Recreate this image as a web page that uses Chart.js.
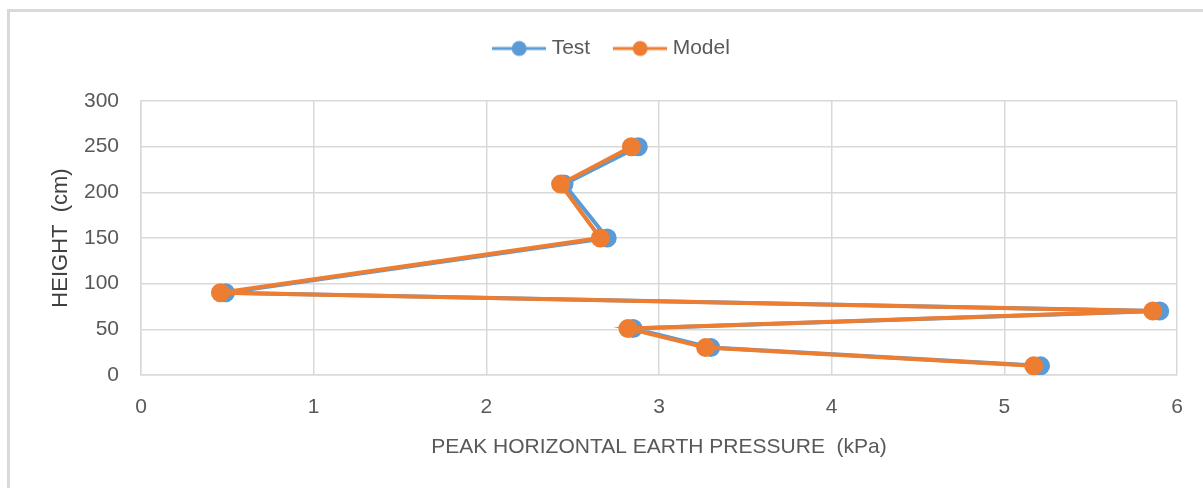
<!DOCTYPE html>
<html>
<head>
<meta charset="utf-8">
<script src="https://cdn.jsdelivr.net/npm/chart.js@4"></script>
<style>
	html, body { margin: 0; padding: 0; background: #fff; overflow: hidden; }
	#frame {
		position: absolute; left: 7px; top: 9px; width: 1300px; height: 600px;
		border-left: 3px solid #d9d9d9; border-top: 3px solid #d9d9d9;
	}
	#wrap { position: absolute; left: 0; top: 0; width: 1203px; height: 488px; }
</style>
</head>
<body>
<div id="frame"></div>
<div id="wrap"><canvas id="earth-pressure"></canvas></div>
<script>
// heights (cm) and peak pressures (kPa)
const heights = [10, 30, 51, 70, 90, 150, 209, 250];
const testValues = [5.21, 3.30, 2.85, 5.90, 0.49, 2.70, 2.45, 2.88];
const modelValues = [5.17, 3.27, 2.82, 5.86, 0.46, 2.66, 2.43, 2.84];
const seriesNames = ["Test", "Model"];
const xTicks = [0, 1, 2, 3, 4, 5, 6];
const yTicks = [0, 50, 100, 150, 200, 250, 300];

const blue = "#5b9bd5";
const orange = "#ed7d31";
const grey = "#595959";
const fontFam = "'Liberation Sans', Arial, sans-serif";

function toPoints(xs) {
	let pts = [];
	for (let i = 0; i < xs.length; i++) pts.push({ x: xs[i], y: heights[i] });
	return pts;
}

// legend marker: line with a dot in the middle
function legendIcon(color) {
	let c = document.createElement("canvas");
	c.width = 54;
	c.height = 18;
	let g = c.getContext("2d");
	g.strokeStyle = color;
	g.lineWidth = 3;
	g.beginPath();
	g.moveTo(0, 9);
	g.lineTo(54, 9);
	g.stroke();
	g.fillStyle = color;
	g.beginPath();
	g.arc(27, 9, 7.5, 0, Math.PI * 2);
	g.fill();
	return c;
}

// make the legend box taller so the plot starts lower
const legendSpace = {
	id: "legendSpace",
	beforeLayout(chart) {
		let lg = chart.legend;
		if (!lg || lg._patched) return;
		let fit = lg.fit;
		lg.fit = function () {
			fit.call(this);
			this.height += 32;
		};
		lg._patched = true;
	},
};

let obj = {
	type: "scatter",
	data: {
		datasets: [
			{
				label: seriesNames[0],
				data: toPoints(testValues),
				showLine: true,
				order: 1,
				borderColor: blue,
				backgroundColor: blue,
				borderWidth: 4,
				pointRadius: 7.5,
				pointHoverRadius: 7.5,
				pointStyle: "circle",
				legendIcon: legendIcon(blue),
			},
			{
				label: seriesNames[1],
				data: toPoints(modelValues),
				showLine: true,
				order: 0,
				borderColor: orange,
				backgroundColor: orange,
				borderWidth: 4,
				pointRadius: 7.5,
				pointHoverRadius: 7.5,
				pointStyle: "circle",
				legendIcon: legendIcon(orange),
			},
		],
	},
	options: {
		responsive: false,
		animation: false,
		layout: { padding: { top: 10, right: 26, left: 50, bottom: 0 } },
		plugins: {
			tooltip: { enabled: false },
			legend: {
				position: "top",
				labels: {
					usePointStyle: true,
					pointStyleWidth: 44,
					padding: 28,
					color: grey,
					font: { family: fontFam, size: 21 },
					generateLabels: function (chart) {
						return chart.data.datasets.map((ds, i) => ({
							text: ds.label,
							fillStyle: ds.borderColor,
							strokeStyle: ds.borderColor,
							lineWidth: 0,
							pointStyle: ds.legendIcon,
							fontColor: grey,
							datasetIndex: i,
							hidden: false,
						}));
					},
				},
			},
		},
		scales: {
			x: {
				type: "linear",
				min: 0,
				max: 6,
				afterBuildTicks: (s) => { s.ticks = xTicks.map((v) => ({ value: v })); },
				afterFit: (s) => { s.height = 113; },
				grid: { color: "#d9d9d9", lineWidth: 1.5, drawTicks: false },
				border: { color: "#d9d9d9", width: 1.5 },
				ticks: { color: grey, padding: 20, font: { family: fontFam, size: 21 } },
				title: {
					display: true,
					text: "PEAK HORIZONTAL EARTH PRESSURE  (kPa)",
					color: grey,
					font: { family: fontFam, size: 21 },
					padding: { top: 0, bottom: 28 },
				},
			},
			y: {
				type: "linear",
				min: 0,
				max: 300,
				afterBuildTicks: (s) => { s.ticks = yTicks.map((v) => ({ value: v })); },
				afterFit: (s) => { s.width = 91; },
				grid: { color: "#d9d9d9", lineWidth: 1.5, drawTicks: false },
				border: { color: "#d9d9d9", width: 1.5 },
				ticks: { color: grey, padding: 22, font: { family: fontFam, size: 21 } },
				title: {
					display: true,
					text: "HEIGHT  (cm)",
					color: "#404040",
					font: { family: fontFam, size: 22, lineHeight: 1 },
					padding: { top: 0, bottom: 0 },
				},
			},
		},
	},
	plugins: [legendSpace],
};

let cv = document.getElementById("earth-pressure");
cv.width = 1203;
cv.height = 488;
new Chart(cv, obj);
</script>
</body>
</html>
